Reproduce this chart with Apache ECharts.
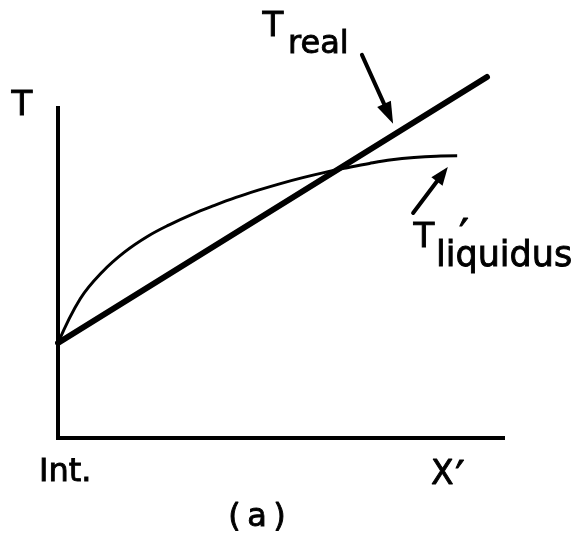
<!DOCTYPE html>
<html>
<head>
<meta charset="utf-8">
<script src="https://cdn.jsdelivr.net/npm/echarts@6/dist/echarts.min.js"></script>
<style>
  html, body { margin: 0; padding: 0; background: #fff; }
  #chart { width: 572px; height: 543px; }
</style>
</head>
<body>
<div id="chart"></div>
<script>
// Composition X' runs from the interface (0) to 100, temperature T from 0 to 100.
const realX = [0, 96.4];
const realT = [28.8, 109.4];

const liquidusX = [0, 5, 10, 15, 20, 25, 30, 35, 40, 45, 50, 55, 60, 65, 70, 75, 80, 85, 89.7];
const liquidusT = [28.8, 42.2, 50.4, 56.4, 61.0, 64.6, 67.7, 70.4, 72.9, 75.1, 77.1, 78.9, 80.5, 81.9, 83.2, 84.3, 85.0, 85.4, 85.5];

// Pointer arrows, [tail, tip] in data units
const realArrow = [[68.3, 116.1], [75.3, 95.2]];
const liquidusArrow = [[79.8, 68.2], [87.6, 82.1]];

const FONT = 'DejaVu Sans';
const INK = '#000';

const pairs = (xs, ys) => xs.map((x, i) => [x, ys[i]]);

const chart = echarts.init(document.getElementById('chart'), null, { renderer: 'canvas' });

const bareAxis = {
  type: 'value',
  min: 0,
  max: 100,
  axisTick: { show: false },
  axisLabel: { show: false },
  splitLine: { show: false },
  axisLine: { show: true, lineStyle: { color: INK, width: 4, cap: 'square' } }
};

function label(text, x, y, size, align) {
  return {
    type: 'text',
    x: x,
    y: y,
    silent: true,
    style: {
      text: text,
      font: 'normal ' + size + 'px "' + FONT + '"',
      fill: INK,
      stroke: INK,
      lineWidth: 0.9,
      align: align || 'left',
      verticalAlign: 'middle'
    }
  };
}

chart.setOption({
  animation: false,
  backgroundColor: '#fff',
  grid: { left: 58, top: 108, right: 69, bottom: 105 },
  xAxis: Object.assign({}, bareAxis),
  yAxis: Object.assign({}, bareAxis),
  series: [
    {
      name: 'T real',
      type: 'line',
      data: pairs(realX, realT),
      symbol: 'none',
      clip: false,
      lineStyle: { color: INK, width: 6, cap: 'round' },
      z: 4
    },
    {
      name: 'T liquidus',
      type: 'line',
      data: pairs(liquidusX, liquidusT),
      smooth: 0.4,
      symbol: 'none',
      clip: false,
      lineStyle: { color: INK, width: 3 },
      z: 3
    }
  ]
});

// Arrows are built in pixel space from their data-unit end points
function arrow(pts, headLen, headHalf, shaftWidth) {
  const q = chart.convertToPixel({ gridIndex: 0 }, pts[0]);
  const p = chart.convertToPixel({ gridIndex: 0 }, pts[1]);
  const dx = p[0] - q[0], dy = p[1] - q[1];
  const len = Math.hypot(dx, dy);
  const ux = dx / len, uy = dy / len;
  const nx = -uy, ny = ux;
  const bx = p[0] - ux * headLen, by = p[1] - uy * headLen;
  return [
    {
      type: 'polyline',
      silent: true,
      shape: { points: [q, [bx + ux * 2, by + uy * 2]] },
      style: { stroke: INK, lineWidth: shaftWidth, lineCap: 'round' }
    },
    {
      type: 'polygon',
      silent: true,
      shape: { points: [p, [bx + nx * headHalf, by + ny * headHalf], [bx - nx * headHalf, by - ny * headHalf]] },
      style: { fill: INK }
    }
  ];
}

chart.setOption({
  graphic: [].concat(
    arrow(realArrow, 22, 7.5, 4),
    arrow(liquidusArrow, 18, 7, 4),
    [
      label('T', 22, 106, 34, 'center'),
      label('T', 273, 27, 34, 'center'),
      label('real', 288, 45, 32),
      label('T', 424, 238, 34, 'center'),
      label('\u2032', 464, 240, 44, 'center'),
      label('liquidus', 436, 257, 35),
      label('Int.', 39, 473, 32),
      label('X', 431, 475, 33),
      label('\u2032', 460, 480, 42, 'center'),
      label('(\u2009a\u2009)', 257, 518, 32, 'center')
    ]
  )
});
</script>
</body>
</html>
